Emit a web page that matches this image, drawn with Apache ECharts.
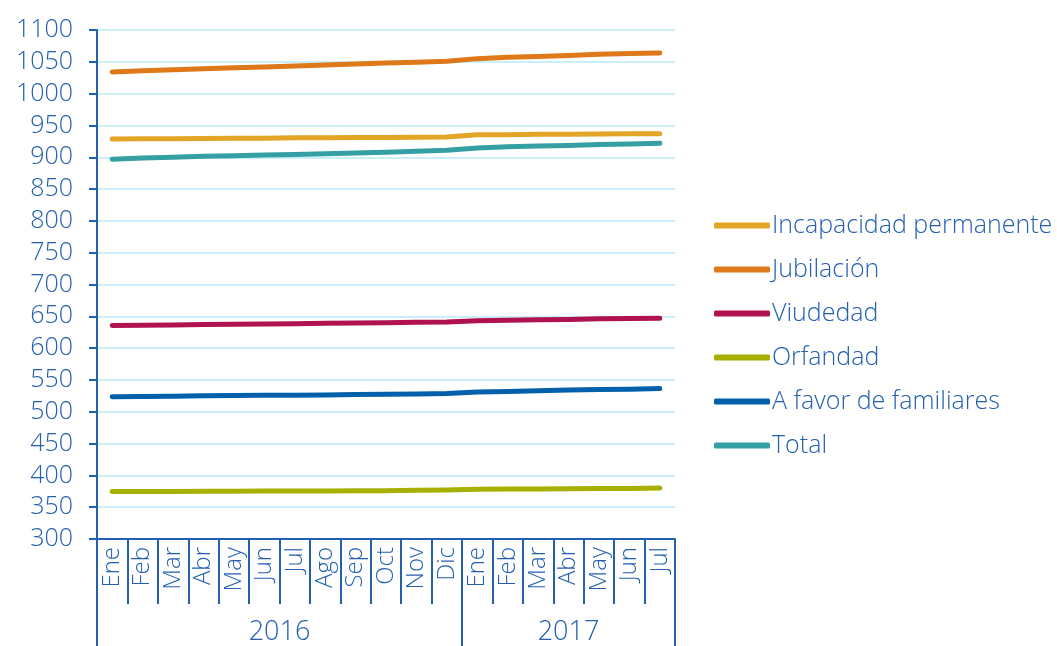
<!DOCTYPE html>
<html>
<head>
<meta charset="utf-8">
<script src="https://cdn.jsdelivr.net/npm/echarts@6/dist/echarts.min.js"></script>
<style>
  html, body { margin: 0; padding: 0; background: #fff; }
  #chart { width: 1057px; height: 646px; }
</style>
</head>
<body>
<div id="chart"></div>
<script>
// meses (ene 2016 - jul 2017)
var months = ['Ene', 'Feb', 'Mar', 'Abr', 'May', 'Jun', 'Jul', 'Ago', 'Sep', 'Oct', 'Nov', 'Dic',
              'Ene', 'Feb', 'Mar', 'Abr', 'May', 'Jun', 'Jul'];
var years = ['2016', '2017'];
var yTicks = [300, 1100, 50];

var incapacidad = [928.5, 929, 929, 929.5, 930, 930, 930.5, 930.5, 931, 931, 931.5, 932,
                   935.5, 935.5, 936, 936, 936.5, 937, 937];
var jubilacion = [1034, 1036, 1037.5, 1039, 1040.5, 1042, 1043.5, 1045, 1046.5, 1048, 1049.5, 1051,
                  1055, 1057, 1058.5, 1060, 1062, 1063, 1064];
var viudedad = [635.5, 636, 636.5, 637, 637.5, 638, 638.5, 639, 639.5, 640, 640.5, 641,
                643, 644, 644.5, 645, 646, 646.5, 647];
var orfandad = [374.5, 374.5, 374.5, 375, 375, 375.5, 375.5, 375.5, 376, 376, 376.5, 377,
                378, 378.5, 378.5, 379, 379.5, 379.5, 380];
var familiares = [523.5, 524, 524.5, 525, 525.5, 526, 526, 526.5, 527, 527.5, 528, 528.5,
                  531, 532, 533, 534, 535, 535.5, 536.5];
var total = [897, 899, 900, 901.5, 902.5, 903.5, 904.5, 905.5, 906.5, 908, 909.5, 911,
             914.5, 916.5, 917.5, 918.5, 920, 921, 922];

var blue = '#2560b0';
var font = 'Open Sans';

var chart = echarts.init(document.getElementById('chart'));

function line(name, data, color) {
    return {
        name: name,
        type: 'line',
        data: data,
        showSymbol: false,
        symbol: 'none',
        lineStyle: { color: color, width: 5, cap: 'round', join: 'round' },
        itemStyle: { color: color }
    };
}

var option = {
    animation: false,
    textStyle: { fontFamily: font },
    grid: { left: 97, right: 382, top: 30, bottom: 106, containLabel: false },
    legend: {
        orient: 'vertical',
        left: 709,
        top: 208,
        icon: 'roundRect',
        itemWidth: 56,
        itemHeight: 6,
        itemGap: 19,
        textStyle: { color: blue, fontSize: 25, fontWeight: 300, fontFamily: font, padding: [0, 0, 0, -3] },
        data: ['Incapacidad permanente', 'Jubilación', 'Viudedad', 'Orfandad', 'A favor de familiares', 'Total']
    },
    xAxis: [
        {
            type: 'category',
            data: months,
            boundaryGap: true,
            axisLine: { show: true, lineStyle: { color: blue, width: 2 } },
            axisTick: { show: true, interval: 0, length: 65, lineStyle: { color: blue, width: 2 } },
            axisLabel: { interval: 0, rotate: 90, margin: 8, color: blue, fontSize: 24, fontWeight: 300, fontFamily: font },
            splitLine: { show: false }
        },
        {
            type: 'value',
            position: 'bottom',
            offset: 65,
            min: 0,
            max: months.length,
            axisLine: { show: false },
            axisTick: { show: true, customValues: [0, 12, months.length], length: 42, inside: false, lineStyle: { color: blue, width: 2 } },
            axisLabel: {
                customValues: [6, 15.5],
                margin: 15,
                color: blue,
                fontSize: 27,
                fontWeight: 300,
                fontFamily: font,
                formatter: function (v) { return v < 12 ? years[0] : years[1]; }
            },
            splitLine: { show: false }
        }
    ],
    yAxis: {
        type: 'value',
        min: yTicks[0],
        max: yTicks[1],
        interval: yTicks[2],
        axisLine: { show: true, lineStyle: { color: blue, width: 2 } },
        axisTick: { show: true, length: 8, lineStyle: { color: blue, width: 2 } },
        axisLabel: {
            margin: 24, color: blue, fontSize: 25, fontWeight: 300, fontFamily: font,
            formatter: function (v) { return String(v); }
        },
        splitLine: { show: true, lineStyle: { color: '#cbeefb', width: 2 } }
    },
    series: [
        line('Incapacidad permanente', incapacidad, '#e2a526'),
        line('Jubilación', jubilacion, '#de7818'),
        line('Viudedad', viudedad, '#b0114f'),
        line('Orfandad', orfandad, '#a6b000'),
        line('A favor de familiares', familiares, '#0060aa'),
        line('Total', total, '#35a0a4')
    ]
};

chart.setOption(option);
</script>
</body>
</html>
